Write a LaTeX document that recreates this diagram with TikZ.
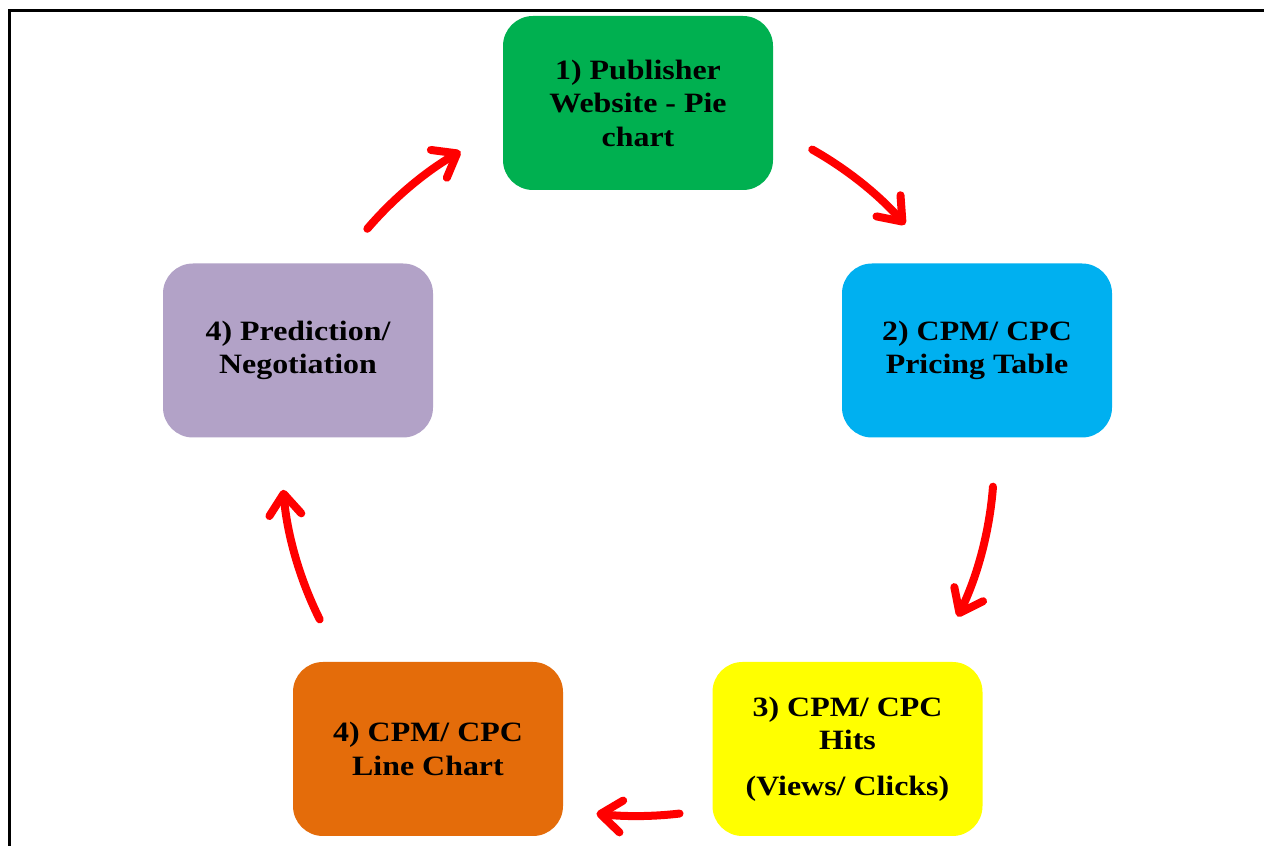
\documentclass[tikz,border=0pt]{standalone}
\usepackage{fontspec}
\newfontfamily\boxfont[FakeStretch=1.14]{Liberation Serif}
\usetikzlibrary{arrows.meta,calc}
\definecolor{pubgreen}{HTML}{00B050}
\definecolor{pricecyan}{HTML}{00B0F0}
\definecolor{hitsyellow}{HTML}{FFFF00}
\definecolor{lineorange}{HTML}{E46C0A}
\definecolor{predlilac}{HTML}{B2A2C7}
\begin{document}
\begin{tikzpicture}[x=1pt,y=1pt,
  stage/.style={rounded corners=30pt, minimum width=270pt, minimum height=174pt,
    inner sep=0pt, align=center, text=black,
    font=\boxfont\bfseries\fontsize{28}{33.5}\selectfont},
  flow/.style={draw=red, line width=8pt, line cap=round, looseness=0.85,
    -{Straight Barb[length=21pt, width=32pt, line cap=round, line join=round]}}]
\useasboundingbox (0,0) rectangle (1264,846);
\fill[white] (0,0) rectangle (1264,846);
% outer frame, running off the right and bottom edges
\draw[line width=3pt] (9,-20) -- (9,835) -- (1290,835);

% the five stages
\node[stage, fill=pubgreen]   (pub)  at (638,743)   {1) Publisher\\Website - Pie\\chart};
\node[stage, fill=pricecyan]  (price) at (977,495.5) {2) CPM/ CPC\\Pricing Table};
\node[stage, fill=hitsyellow] (hits) at (847.5,97)  {3) CPM/ CPC\\Hits\\[12pt](Views/ Clicks)};
\node[stage, fill=lineorange] (line) at (428,97)    {4) CPM/ CPC\\Line Chart};
\node[stage, fill=predlilac]  (pred) at (298,495.5) {4) Prediction/\\Negotiation};

% cycle arrows along a circle round the centre
\coordinate (c) at (638,386);
\coordinate (a1s) at ($(c)+(60.7:356pt)$);
\coordinate (a1e) at ($(c)+(41.4:356pt)$);
\coordinate (a2s) at ($(c)+(-4.3:356pt)$);
\coordinate (a2e) at ($(c)+(-26.1:356pt)$);
\coordinate (a3s) at ($(c)+(-83.3:356pt)$);
\coordinate (a3e) at ($(c)+(-96.7:356pt)$);
\coordinate (a4s) at ($(c)+(206.6:356pt)$);
\coordinate (a4e) at ($(c)+(184.8:356pt)$);
\coordinate (a5s) at ($(c)+(139.5:356pt)$);
\coordinate (a5e) at ($(c)+(119.9:356pt)$);

\draw[flow] (a1s) to[out=-29.3, in=131.4] (a1e);
\draw[flow] (a2s) to[out=-94.3, in=63.9] (a2e);
\draw[flow] (a3s) to[out=-173.3, in=-6.7] (a3e);
\draw[flow] (a4s) to[out=116.6, in=-85.2] (a4e);
\draw[flow] (a5s) to[out=49.5, in=209.9] (a5e);
\end{tikzpicture}
\end{document}
